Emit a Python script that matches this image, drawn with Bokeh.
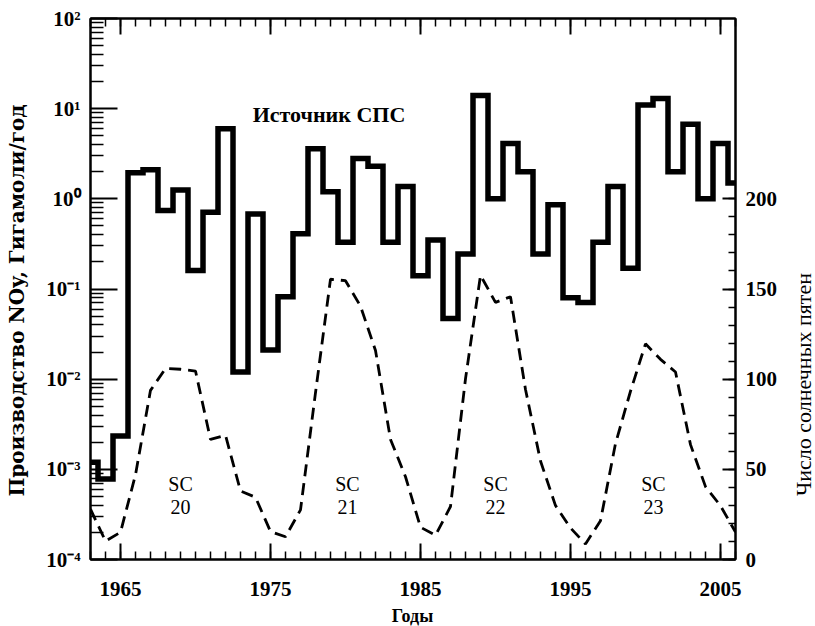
from bokeh.plotting import figure
from bokeh.models import Range1d, LinearAxis, LinearScale, FixedTicker, CustomJSTickFormatter, Label
from bokeh.embed import file_html
from bokeh.resources import INLINE
from bokeh.core.properties import value
import math

# ---- data ----
years = list(range(1963, 2007))
noy_production = [1.2e-3, 7.8e-4, 2.35e-3, 1.95, 2.1, 0.74, 1.25, 0.16, 0.71, 6.0,
                  0.012, 0.68, 0.021, 0.082, 0.41, 3.6, 1.2, 0.33, 2.8, 2.3,
                  0.33, 1.37, 0.14, 0.35, 0.047, 0.245, 14.0, 1.0, 4.1, 2.0,
                  0.245, 0.86, 0.08, 0.071, 0.33, 1.37, 0.17, 11.0, 13.0, 2.0,
                  6.7, 1.0, 4.1, 1.5]
sunspot_number = [27.9, 10.2, 15.1, 47.0, 93.8, 105.9, 105.5, 104.5, 66.6, 68.9,
                  38.0, 34.5, 15.5, 12.6, 27.5, 92.5, 155.4, 154.6, 140.5, 115.9,
                  66.6, 45.9, 17.9, 13.4, 29.4, 100.2, 157.6, 142.6, 145.7, 94.3,
                  54.6, 29.9, 17.5, 8.6, 21.5, 64.3, 93.3, 119.6, 111.0, 104.0,
                  63.7, 40.4, 29.8, 15.2]
cycle_names = ["20", "21", "22", "23"]
x_ticks = [1965, 1975, 1985, 1995, 2005]
y_ticks = [1e-4, 1e-3, 1e-2, 1e-1, 1e0, 1e1, 1e2]
ssn_ticks = [0, 50, 100, 150, 200]

# annotation placement (layout, not data)
cycle_x = [1969.0, 1980.13, 1990.0, 2000.53]
SERIF = "Liberation Serif"

p = figure(width=815, height=626, x_range=Range1d(1963, 2006), y_range=Range1d(1e-4, 1e2),
           y_axis_type="log", output_backend="svg", toolbar_location=None,
           min_border_left=90, min_border_right=80, min_border_top=18, min_border_bottom=67)
p.background_fill_color = "white"
p.border_fill_color = "white"
p.outline_line_color = "black"
p.outline_line_width = 2
p.xgrid.visible = False
p.ygrid.visible = False
p.extra_y_ranges = {"ssn": Range1d(0, 300)}
p.extra_y_scales = {"ssn": LinearScale()}

def style(ax, tin, min_in):
    ax.axis_line_color = "black"
    ax.axis_line_width = 2
    ax.major_tick_in = tin
    ax.major_tick_out = 0
    ax.minor_tick_in = min_in
    ax.minor_tick_out = 0
    ax.major_tick_line_width = 2
    ax.minor_tick_line_width = 1.5
    ax.major_tick_line_color = "black"
    ax.minor_tick_line_color = "black"
    ax.major_label_text_font = SERIF
    ax.major_label_text_font_style = "bold"
    ax.major_label_text_font_size = "21px"
    ax.major_label_text_color = "black"

# bottom axis
xa = p.xaxis[0]
xa.ticker = FixedTicker(ticks=x_ticks, minor_ticks=years)
style(xa, 16, 8)
xa.major_label_standoff = 22

# top axis (ticks only)
ta = LinearAxis(ticker=FixedTicker(ticks=x_ticks, minor_ticks=years),
                formatter=CustomJSTickFormatter(code="return '';"))
style(ta, 16, 8)
p.add_layout(ta, "above")

# left log axis
ya = p.yaxis[0]
minor = [k * 10.0 ** n for n in range(-4, 2) for k in range(2, 10)]
ya.ticker = FixedTicker(ticks=y_ticks, minor_ticks=minor)
ya.formatter = CustomJSTickFormatter(code="""
const sup = {"-":"\u207b","0":"\u2070","1":"\u00b9","2":"\u00b2","3":"\u00b3","4":"\u2074"};
const e = Math.round(Math.log10(tick));
return "10" + String(e).split("").map(c => sup[c]).join("");
""")
style(ya, 27, 13)
ya.major_label_standoff = 10

# right linear axis (sunspots)
ra = LinearAxis(y_range_name="ssn", ticker=FixedTicker(ticks=ssn_ticks, minor_ticks=list(range(0, 201, 10))))
style(ra, 13, 7)
ra.major_label_standoff = 10
p.add_layout(ra, "right")

# data
p.step(years, noy_production, mode="center", line_width=5.5, line_color="black", line_join="miter")
p.line(years, sunspot_number, y_range_name="ssn", line_color="black", line_width=2.8, line_dash="12 7")

# annotations
p.add_layout(Label(x=1978.9, y=8.6, text="Источник СПС", text_align="center", text_baseline="middle",
                   text_font=SERIF, text_font_style="bold", text_font_size="22px", text_color="black"))
p.text(x=cycle_x, y=[41.7] * 4, text=["SC"] * 4, y_range_name="ssn", text_align="center",
       text_baseline="middle", text_font=value(SERIF), text_font_size="20px", text_color="black")
p.text(x=cycle_x, y=[28.9] * 4, text=cycle_names, y_range_name="ssn", text_align="center",
       text_baseline="middle", text_font=value(SERIF), text_font_size="20px", text_color="black")

# axis titles placed in the side panels
p.add_layout(Label(x=803, y=384, x_units="canvas", y_units="canvas", text="Число солнечных пятен",
                   angle=math.pi / 2, text_align="center", text_baseline="middle", text_font=SERIF,
                   text_font_size="22px", text_color="black"), "right")
p.add_layout(Label(x=16, y=300, x_units="canvas", y_units="canvas", text="Производство NOy, Гигамоли/год",
                   angle=math.pi / 2, text_align="center", text_baseline="middle", text_font="DejaVu Serif",
                   text_font_style="bold", text_font_size="20px", text_color="black"), "left")
p.add_layout(Label(x=412, y=615, x_units="canvas", y_units="canvas", text="Годы",
                   text_align="center", text_baseline="middle", text_font=SERIF,
                   text_font_style="bold", text_font_size="18px", text_color="black"), "below")

open("out.html", "w").write(file_html(p, INLINE))
